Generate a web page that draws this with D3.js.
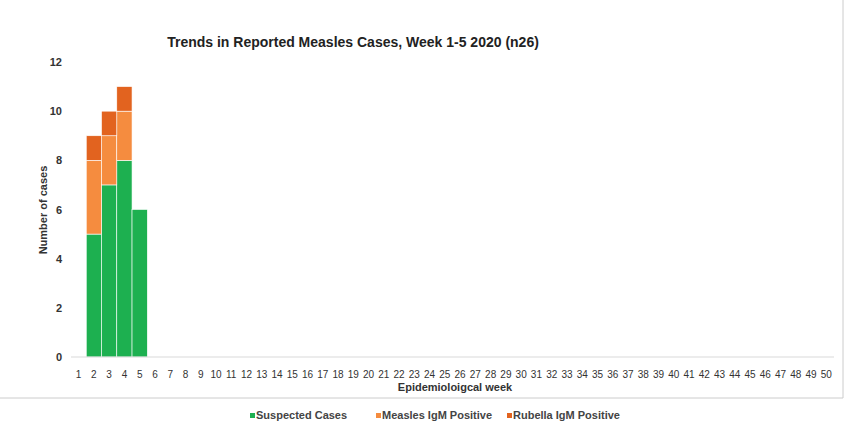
<!DOCTYPE html>
<html><head><meta charset="utf-8">
<script src="https://cdn.jsdelivr.net/npm/d3@7"></script>
<style>body{margin:0;background:#fff;font-family:"Liberation Sans",Arial,sans-serif;}</style>
</head><body><div id="chart"></div>
<script>
const WEEKS = d3.range(1, 51);
const SUSPECTED = [0, 5, 7, 8, 6];
const MEASLES_IGM = [0, 3, 2, 2, 0];
const RUBELLA_IGM = [0, 1, 1, 1, 0];
const SERIES = ["Suspected Cases", "Measles IgM Positive", "Rubella IgM Positive"];
const COLORS = ["#1db050", "#f58c3f", "#e2631f"];
const Y_TICKS = [0, 2, 4, 6, 8, 10, 12];

const W = 859, H = 427;
const M = {left: 71, right: 25, top: 62, bottom: 70};
const svg = d3.select("#chart").append("svg").attr("width", W).attr("height", H);

const x = d3.scaleBand().domain(WEEKS).range([M.left, 834]).padding(0);
const y = d3.scaleLinear().domain([0, 12]).range([357, M.top]);

const rows = WEEKS.map((w, i) => ({week: w, s0: SUSPECTED[i] || 0, s1: MEASLES_IGM[i] || 0, s2: RUBELLA_IGM[i] || 0}));
const stacked = d3.stack().keys(["s0", "s1", "s2"])(rows);

svg.selectAll("g.layer").data(stacked).enter().append("g")
  .attr("fill", (d, i) => COLORS[i])
  .selectAll("rect").data(d => d.filter(p => p[1] > p[0])).enter().append("rect")
    .attr("x", d => x(d.data.week))
    .attr("width", x.bandwidth())
    .attr("y", d => y(d[1]))
    .attr("height", d => y(d[0]) - y(d[1]))
    .attr("stroke", "#fff").attr("stroke-width", 0.6);

// axis line
svg.append("line").attr("x1", M.left).attr("x2", 834).attr("y1", y(0)).attr("y2", y(0))
  .attr("stroke", "#d9d9d9");

svg.selectAll(".yt").data(Y_TICKS).enter().append("text")
  .attr("x", 62).attr("y", d => y(d) + 4).attr("text-anchor", "end")
  .attr("font-size", 11).attr("font-weight", "bold").attr("fill", "#333").text(d => d);

svg.selectAll(".xt").data(WEEKS).enter().append("text")
  .attr("x", d => x(d) + x.bandwidth() / 2).attr("y", 378).attr("text-anchor", "middle")
  .attr("font-size", 10).attr("fill", "#333").text(d => d);

svg.append("text").attr("x", 353).attr("y", 47).attr("text-anchor", "middle")
  .attr("font-size", 14).attr("font-weight", "bold").attr("fill", "#222")
  .text("Trends in Reported Measles Cases, Week 1-5 2020 (n26)");

svg.append("text").attr("x", 455).attr("y", 391).attr("text-anchor", "middle")
  .attr("font-size", 11).attr("font-weight", "bold").attr("fill", "#333").text("Epidemioloigcal week");

svg.append("text").attr("transform", "translate(47,210) rotate(-90)").attr("text-anchor", "middle")
  .attr("font-size", 11).attr("font-weight", "bold").attr("fill", "#333").text("Number of cases");

// legend
const LX = [250, 376, 507];
const lg = svg.selectAll(".lg").data(SERIES).enter().append("g")
  .attr("transform", (d, i) => "translate(" + LX[i] + ",419)");
lg.append("rect").attr("width", 5).attr("height", 5).attr("y", -6).attr("fill", (d, i) => COLORS[i]);
lg.append("text").attr("x", 6).attr("font-size", 11).attr("font-weight", "bold").attr("fill", "#444").text(d => d);

// frame lines
svg.append("line").attr("x1", 843).attr("x2", 843).attr("y1", 0).attr("y2", 398).attr("stroke", "#ccc");
svg.append("line").attr("x1", 0).attr("x2", 843).attr("y1", 398).attr("y2", 398).attr("stroke", "#ccc");
</script></body></html>
